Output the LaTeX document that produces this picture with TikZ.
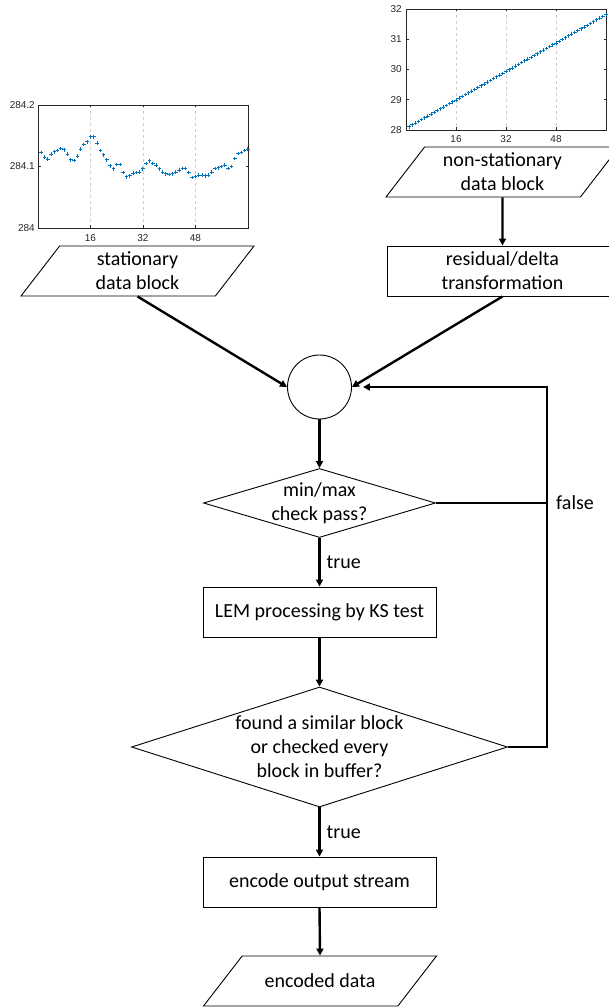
\documentclass[tikz,border=0pt]{standalone}
\usepackage{fontspec}
\setmainfont{Carlito}
\newfontfamily\axisfont{Liberation Sans}
\usepackage{xcolor}
\usetikzlibrary{arrows.meta,positioning,shapes.geometric}
\definecolor{mblue}{RGB}{0,114,189}
\definecolor{axgray}{RGB}{38,38,38}
\tikzset{
  box/.style={draw,line width=0.9pt,minimum width=233pt,minimum height=50pt,align=center,inner sep=2pt},
  dat/.style={trapezium,trapezium left angle=47.4,trapezium right angle=132.6,trapezium stretches body=true,draw,line width=0.9pt,minimum width=233pt,minimum height=50pt,align=center,inner sep=2pt},
  dec/.style={diamond,draw,line width=0.9pt,align=center,inner xsep=-30pt,inner ysep=0pt},
  merge/.style={circle,draw,line width=0.9pt,minimum size=64pt,inner sep=0pt},
  arr/.style={-{Triangle[length=7pt,width=7pt]},line width=2.4pt},
  ln/.style={line width=2.4pt},
  lbl/.style={inner sep=2pt},
  ax/.style={draw=axgray,line width=0.6pt},
  grd/.style={draw=black!20,dashed,line width=0.5pt},
  tck/.style={font=\axisfont\fontsize{10}{12}\selectfont,text=axgray,inner sep=1pt},
  mk/.style={draw=mblue,line width=1pt},
}

\begin{document}
\begin{tikzpicture}[x=1pt,y=-1pt,font=\fontsize{20}{24}\selectfont]
\useasboundingbox (0,0) rectangle (609,1008);
% stationary block plot
\foreach \g in {16,32,48} {
  \draw[grd] ({38+3.28*\g},105) -- ({38+3.28*\g},228);
  \draw[ax] ({38+3.28*\g},228) -- ++(0,-2.5) ({38+3.28*\g},105) -- ++(0,2.5);
  \node[tck] (sx\g) at ({38+3.28*\g},238) {\g};}
\draw[ax] (38,105) rectangle (248,228);
\foreach \t/\y [count=\k] in {284/228,284.1/166.5,284.2/105} {
  \draw[ax] (38,\y) -- ++(2.5,0) (248,\y) -- ++(-2.5,0);
  \node[tck,anchor=east] (sy\k) at (36,\y) {\t};}
\foreach \v [count=\i] in {123,115,112,120,124,126,129,127,120,111,110,117,128,136,140,148,
  148,138,126,119,111,101,96,103,103,90,83,85,89,90,91,96,
  105,109,105,102,96,91,88,87,88,91,94,97,97,90,82,84,
  86,86,85,86,91,97,98,100,102,97,100,113,121,123,126,128}
  \draw[mk] ({38+3.28*\i},{228-0.615*\v}) +(-1.8,0) -- +(1.8,0) +(0,-1.8) -- +(0,1.8);
% non-stationary block plot
\foreach \g in {16,32,48} {
  \draw[grd] ({406+3.125*\g},9) -- ({406+3.125*\g},130);
  \draw[ax] ({406+3.125*\g},130) -- ++(0,-2.5) ({406+3.125*\g},9) -- ++(0,2.5);
  \node[tck] (nx\g) at ({406+3.125*\g},139) {\g};}
\draw[ax] (406,9) rectangle (606,130);
\foreach \t in {28,...,32} {
  \draw[ax] (406,{130-30.25*(\t-28)}) -- ++(2.5,0) (606,{130-30.25*(\t-28)}) -- ++(-2.5,0);
  \node[tck,anchor=east] (ny\t) at (403,{130-30.25*(\t-28)}) {\t};}
\foreach \i in {1,...,64}
  \draw[mk] ({406+3.125*\i},{130-30.25*(0.05+0.0588*\i)}) +(-1.8,0) -- +(1.8,0) +(0,-1.8) -- +(0,1.8);
% flow chart
\node[dat] (stat) at (137.5,271) {stationary\\data block};
\node[dat] (nstat) at (502.5,172) {non-stationary\\data block};
\node[box,minimum width=230pt] (resid) at (502.5,271) {residual/delta\\transformation};
\node[merge] (mix) at (319.5,387) {};
\node[dec,minimum width=232pt,minimum height=69pt,shape aspect=3.36] (chk) at (319.5,503) {min/max\\check pass?};
\node[box] (lem) at (319.5,612) {LEM processing by KS test};
\node[dec,minimum width=376pt,minimum height=120pt,shape aspect=3.13] (sim) at (319.5,747) {found a similar block\\or checked every\\block in buffer?};
\node[box] (enc) at (319.5,882) {encode output stream};
\node[dat,inner ysep=14pt] (out) at (320,981) {encoded data};
\coordinate (fb) at (547,387);

\draw[arr] (stat.south) -- (mix.west);
\draw[arr] (nstat.south) -- (resid.north);
\draw[arr] (resid.south) -- (mix.east);
\draw[arr] (mix.south) -- (chk.north);
\draw[arr] (chk.south) -- node[lbl,right=4pt] (t1) {true} (lem.north);
\draw[arr] (lem.south) -- (sim.north);
\draw[arr] (sim.south) -- node[lbl,right=4pt] (t2) {true} (enc.north);
\draw[arr] (enc.south) -- (out.north);
\draw[ln] (chk.east) -- (chk.east -| fb) node[lbl,right=6pt] (fls) {false};
\draw[arr,shorten >=11pt] (sim.east) -| (fb) -- (mix.east);
\end{tikzpicture}
\end{document}
